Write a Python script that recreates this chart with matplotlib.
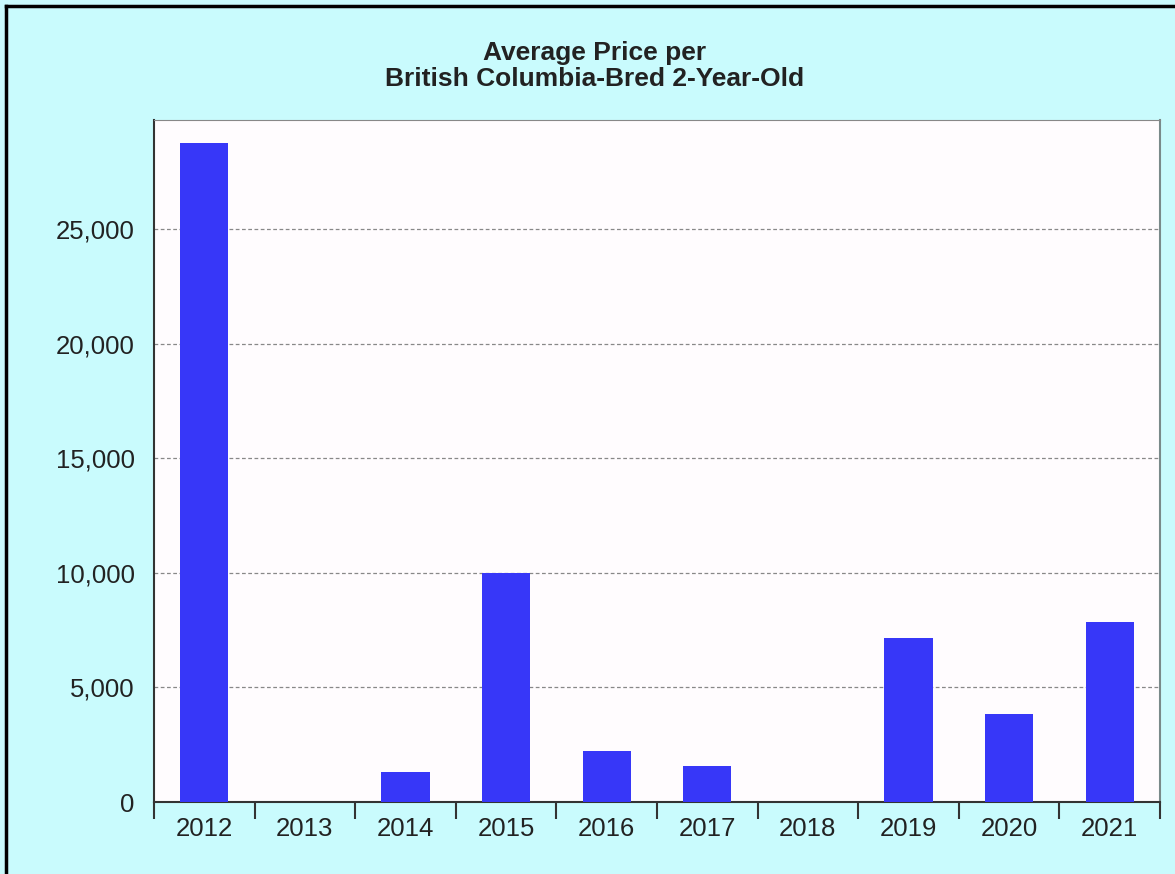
import matplotlib.pyplot as plt
from matplotlib.lines import Line2D
from matplotlib.ticker import FuncFormatter, FixedLocator
import numpy as np

plt.rcParams['font.family'] = ['Liberation Sans', 'DejaVu Sans']

years = ['2012', '2013', '2014', '2015', '2016', '2017', '2018', '2019', '2020', '2021']
avg_price = [28750, 0, 1300, 10000, 2220, 1570, 0, 7150, 3840, 7850]

title = 'Average Price per\nBritish Columbia-Bred 2-Year-Old'

bg = '#C9FBFD'
bar_color = '#3737F8'
text_color = '#222222'

fig = plt.figure(figsize=(11.75, 8.74), dpi=100, facecolor=bg)
ax = fig.add_axes([154/1175, 72/874, 1006/1175, 682/874])
ax.set_facecolor('#FFFCFE')

x = np.arange(len(years))
ax.bar(x, avg_price, width=0.48, color=bar_color, zorder=3)

ax.set_xlim(-0.5, len(years) - 0.5)
ax.set_ylim(0, 29750)

# category labels centered, ticks at boundaries
ax.set_xticks(x)
ax.set_xticklabels(years, fontsize=18.5, color=text_color)
ax.tick_params(axis='x', which='major', length=0, pad=11)
ax.xaxis.set_minor_locator(FixedLocator(np.arange(-0.5, len(years), 1.0)))
ax.tick_params(axis='x', which='minor', length=12, width=1.5, color='#333333', direction='out')

ax.set_yticks([0, 5000, 10000, 15000, 20000, 25000])
ax.yaxis.set_major_formatter(FuncFormatter(lambda v, p: f'{int(v):,}'))
ax.tick_params(axis='y', length=0, pad=14, labelsize=18.5, labelcolor=text_color)

for v in [5000, 10000, 15000, 20000, 25000]:
    ax.axhline(v, color='#888888', linestyle=(0, (3, 2)), linewidth=0.9, zorder=1)

ax.spines['left'].set_color('#333333')
ax.spines['left'].set_linewidth(1.5)
ax.spines['bottom'].set_color('#333333')
ax.spines['bottom'].set_linewidth(1.5)
ax.spines['top'].set_color('#888888')
ax.spines['right'].set_color('#7A8A8A')
ax.spines['right'].set_linewidth(1.5)

fig.text(595/1175, 1 - 66/874, title, ha='center', va='center', fontsize=19,
         fontweight='bold', color=text_color, linespacing=1.1)

# outer border (left and top visible)
fig.add_artist(Line2D([6/1175, 6/1175], [0, 1 - 6/874], color='black', linewidth=2.5,
                      transform=fig.transFigure))
fig.add_artist(Line2D([6/1175, 1], [1 - 6/874, 1 - 6/874], color='black', linewidth=2.5,
                      transform=fig.transFigure))

fig.savefig('out.png', dpi=100, facecolor=bg)
